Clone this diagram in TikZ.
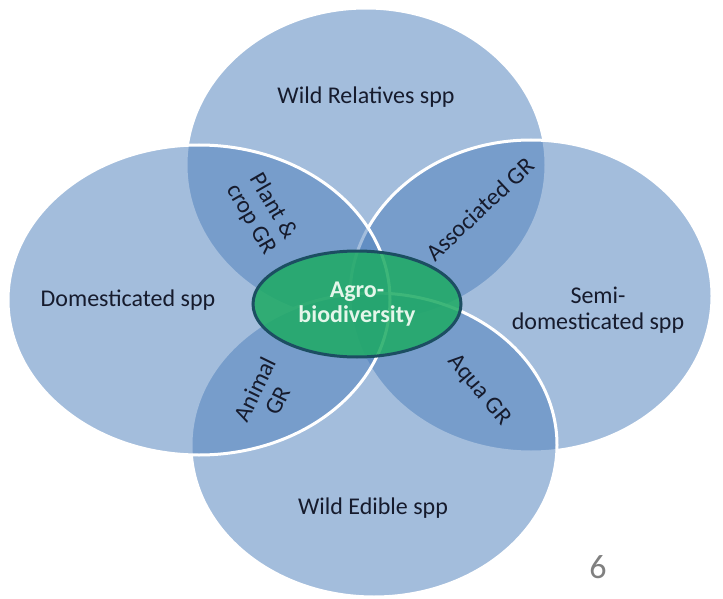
\documentclass[tikz,border=0pt]{standalone}
\usepackage{fontspec}
\setmainfont{Carlito}
\usetikzlibrary{shapes.geometric}
\definecolor{ellblue}{RGB}{79,129,189}
\definecolor{txtdark}{RGB}{22,27,45}
\definecolor{agrogreen}{RGB}{30,170,100}
\definecolor{agroborder}{RGB}{28,78,98}
\definecolor{agrotext}{RGB}{228,246,234}
\definecolor{pagegray}{RGB}{128,128,128}
\begin{document}
\begin{tikzpicture}[x=1pt,y=-1pt,
  venn/.style={fill=ellblue, fill opacity=0.52, draw=white, line width=3pt},
  lbl/.style={text=txtdark, font=\fontsize{24}{25.5}\selectfont, align=center, inner sep=0pt},
  agro/.style={ellipse, fill=agrogreen, fill opacity=0.86, text opacity=1, draw=agroborder, line width=3pt,
     minimum width=208pt, minimum height=106pt, inner sep=0pt,
     text=agrotext, font=\fontsize{24}{25.5}\selectfont\bfseries, align=center}
]
\useasboundingbox (0,0) rectangle (723,599);
\fill[white] (0,0) rectangle (723,599);
% four overlapping ellipses (order: top, right, bottom, left)
\path[venn] (366,165) ellipse [x radius=180pt, y radius=157pt];
\path[venn] (531,296) ellipse [x radius=181pt, y radius=156pt];
\path[venn] (374,445) ellipse [x radius=183pt, y radius=152pt];
\path[venn] (199,300) ellipse [x radius=191pt, y radius=155pt];
% centre
\node[agro] (agro) at (357,304) {Agro-\\biodiversity};
% labels
\node[lbl] (wr) at (366,97) {Wild Relatives spp};
\node[lbl] (dom) at (128,300) {Domesticated spp};
\node[lbl] (semi) at (598,310) {Semi-\\domesticated spp};
\node[lbl] (we) at (373,508) {Wild Edible spp};
\node[lbl, rotate=-60] (plant) at (262,213) {Plant \&\\crop GR};
\node[lbl, rotate=43] (assoc) at (480,209) {Associated GR};
\node[lbl, rotate=64] (animal) at (266,395) {Animal\\GR};
\node[lbl, rotate=-50] (aqua) at (479,390) {Aqua GR};
\node[text=pagegray, font=\fontsize{34}{34}\selectfont, inner sep=0pt] (page) at (598,567) {6};
\end{tikzpicture}
\end{document}
